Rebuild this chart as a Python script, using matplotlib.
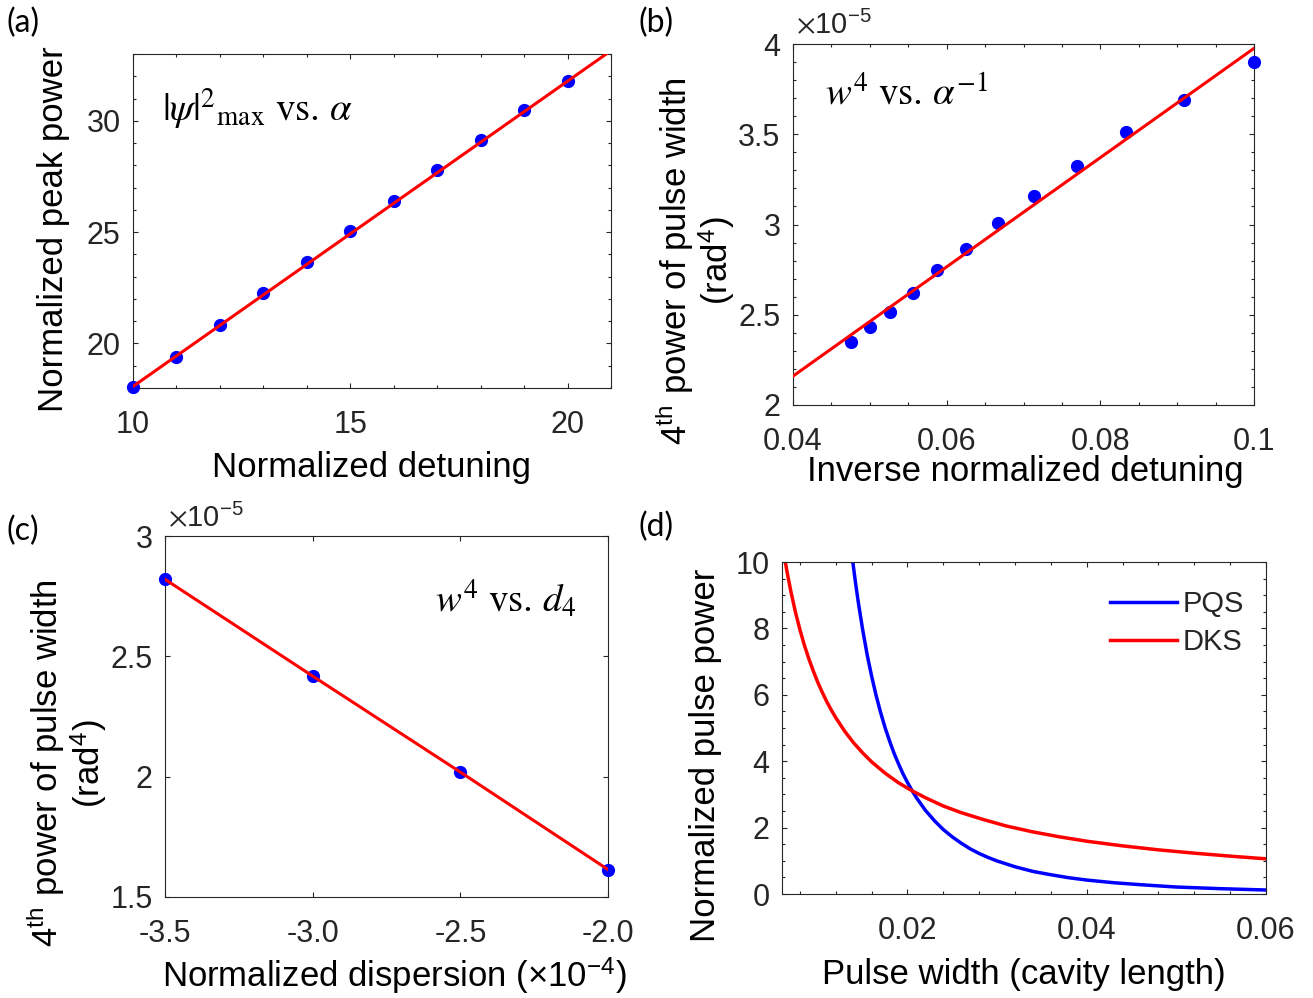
import numpy as np
import matplotlib
matplotlib.use("Agg")
import matplotlib.pyplot as plt
from matplotlib.ticker import MultipleLocator, FuncFormatter, FormatStrFormatter

plt.rcParams.update({
    "font.family": ["Liberation Sans", "DejaVu Sans"],
    "mathtext.fontset": "stix",
    "axes.unicode_minus": False,
    "axes.edgecolor": "#262626",
    "axes.linewidth": 0.8,
    "xtick.color": "#262626", "ytick.color": "#262626",
    "text.color": "#262626",
})
BLUE = "#0000ff"; RED = "#ff0000"
TICK_FS = 22; LABEL_FS = 25

# ── (a) peak power vs detuning ───────────────────────────────────────────────
det = [10, 11, 12, 13, 14, 15, 16, 17, 18, 19, 20]
peak = [18.05, 19.40, 20.82, 22.25, 23.64, 25.06, 26.41, 27.78, 29.13, 30.48, 31.80]
fit_a_x = [10, 21]
fit_a_y = [18.07, 33.15]

# ── (b) w^4 vs inverse detuning (x1e-5) ──────────────────────────────────────
inv_det = [0.0476, 0.0500, 0.0526, 0.0556, 0.0588, 0.0625,
           0.0667, 0.0714, 0.0769, 0.0833, 0.0909, 0.1000]
w4_b = [2.347, 2.433, 2.516, 2.618, 2.747, 2.867,
        3.008, 3.156, 3.324, 3.512, 3.687, 3.903]
fit_b_x = [0.04, 0.10]
fit_b_y = [2.16, 3.976]

# ── (c) w^4 vs d4 (x1e-5) ────────────────────────────────────────────────────
d4 = [-3.5, -3.0, -2.5, -2.0]
w4_c = [2.820, 2.418, 2.019, 1.614]

# ── (d) pulse power vs pulse width ───────────────────────────────────────────
pqs_x = [0.0139, 0.0142, 0.0145, 0.0150, 0.0155, 0.0160, 0.0165, 0.0170, 0.0175,
         0.0180, 0.0185, 0.0190, 0.0195, 0.0200, 0.0205, 0.0210, 0.0220, 0.0230,
         0.0240, 0.0250, 0.0260, 0.0270, 0.0280, 0.0290, 0.0300, 0.0320, 0.0340,
         0.0360, 0.0380, 0.0400, 0.0430, 0.0460, 0.0500, 0.0550, 0.0600]
pqs_y = [10.0, 9.38, 8.81, 7.96, 7.21, 6.56, 5.98, 5.47, 5.01,
         4.61, 4.24, 3.92, 3.62, 3.36, 3.12, 2.90, 2.52, 2.21,
         1.94, 1.72, 1.53, 1.36, 1.22, 1.10, 0.995, 0.82, 0.68,
         0.58, 0.49, 0.42, 0.34, 0.28, 0.21, 0.16, 0.12]
dks_x = [0.00637, 0.0066, 0.0070, 0.0075, 0.0080, 0.0085, 0.0090, 0.0095, 0.0100,
         0.0105, 0.0110, 0.0115, 0.0120, 0.0130, 0.0140, 0.0150, 0.0160, 0.0175,
         0.0190, 0.0205, 0.0220, 0.0240, 0.0260, 0.0285, 0.0310, 0.0340, 0.0370,
         0.0400, 0.0440, 0.0480, 0.0520, 0.0560, 0.0600]
dks_y = [10.0, 9.65, 9.10, 8.49, 7.96, 7.49, 7.08, 6.71, 6.37,
         6.07, 5.79, 5.54, 5.31, 4.90, 4.55, 4.25, 3.98, 3.64,
         3.35, 3.11, 2.90, 2.65, 2.45, 2.24, 2.05, 1.87, 1.72,
         1.59, 1.45, 1.33, 1.23, 1.14, 1.06]

W, H = 1313, 998


def px_axes(left, right, top, bottom):
    return fig.add_axes([left / W, 1 - bottom / H, (right - left) / W, (bottom - top) / H])


def style(ax, xminor, yminor):
    ax.tick_params(which="both", direction="in", top=True, right=True, width=0.8,
                   labelsize=TICK_FS)
    ax.tick_params(which="major", length=3.8)
    ax.tick_params(which="minor", length=2.4)
    ax.tick_params(axis="x", pad=16)
    ax.tick_params(axis="y", pad=9)
    if xminor:
        ax.xaxis.set_minor_locator(MultipleLocator(xminor))
    if yminor:
        ax.yaxis.set_minor_locator(MultipleLocator(yminor))


gfmt = FuncFormatter(lambda v, p: f"{v:g}")
ttl = dict(family="STIXGeneral", fontsize=28, color="black")

fig = plt.figure(figsize=(W / 100, H / 100), dpi=100)

# (a)
ax = px_axes(133, 611, 54, 388)
ax.plot(det, peak, "o", color=BLUE, ms=8.5, clip_on=False, zorder=3)
ax.plot(fit_a_x, fit_a_y, "-", color=RED, lw=2.2, zorder=4)
ax.set_xlim(10, 21); ax.set_ylim(18, 33)
ax.set_xticks([10, 15, 20]); ax.set_yticks([20, 25, 30])
style(ax, 1, 1)
ax.set_xlabel("Normalized detuning", fontsize=LABEL_FS)
ax.set_ylabel("Normalized peak power", fontsize=LABEL_FS)
ax.xaxis.set_label_coords(0.5, -0.19)
ax.yaxis.set_label_coords(-0.132, 0.476)
ax.text(0.06, 0.80, r"|$\psi$|$^{2}{}_{\mathrm{max}}$ vs. $\alpha$",
        transform=ax.transAxes, **ttl)

# (b)
ax = px_axes(793, 1254, 44, 405)
ax.plot(inv_det, w4_b, "o", color=BLUE, ms=8.5, clip_on=False, zorder=3)
ax.plot(fit_b_x, fit_b_y, "-", color=RED, lw=2.2, zorder=4)
ax.set_xlim(0.04, 0.1); ax.set_ylim(2, 4)
ax.set_xticks([0.04, 0.06, 0.08, 0.1]); ax.set_yticks([2, 2.5, 3, 3.5, 4])
ax.xaxis.set_major_formatter(gfmt); ax.yaxis.set_major_formatter(gfmt)
style(ax, 0.005, 0.1)
ax.set_xlabel("Inverse normalized detuning", fontsize=LABEL_FS)
ax.set_ylabel("4$^{\\mathdefault{th}}$ power of pulse width\n(rad$^{\\mathdefault{4}}$)",
              fontsize=LABEL_FS, linespacing=1.05)
ax.xaxis.set_label_coords(0.504, -0.138)
ax.yaxis.set_label_coords(-0.121, 0.40)
ax.text(0.07, 0.83, r"$w^{4}$ vs. $\alpha^{-1}$", transform=ax.transAxes, **ttl)
fig.text(796 / W, 1 - 33 / H, r"$\times\mathdefault{10^{-5}}$", fontsize=21, va="baseline")

# (c)
ax = px_axes(165, 608, 536, 897)
ax.plot(d4, w4_c, "o", color=BLUE, ms=8.5, clip_on=False, zorder=3)
ax.plot(d4, w4_c, "-", color=RED, lw=2.2, zorder=4)
ax.set_xlim(-3.5, -2.0); ax.set_ylim(1.5, 3.0)
ax.set_xticks([-3.5, -3.0, -2.5, -2.0]); ax.set_yticks([1.5, 2, 2.5, 3])
ax.xaxis.set_major_formatter(FormatStrFormatter("%.1f")); ax.yaxis.set_major_formatter(gfmt)
style(ax, None, None)
ax.set_xlabel("Normalized dispersion (×10$^{\\mathdefault{-4}}$)", fontsize=LABEL_FS)
ax.set_ylabel("4$^{\\mathdefault{th}}$ power of pulse width\n(rad$^{\\mathdefault{4}}$)",
              fontsize=LABEL_FS, linespacing=1.05)
ax.xaxis.set_label_coords(0.518, -0.16)
ax.yaxis.set_label_coords(-0.127, 0.371)
ax.text(0.61, 0.79, r"$w^{4}$ vs. $d_{4}$", transform=ax.transAxes, **ttl)
fig.text(168 / W, 1 - 526 / H, r"$\times\mathdefault{10^{-5}}$", fontsize=21, va="baseline")

# (d)
ax = px_axes(782, 1266, 562, 894)
ax.plot(pqs_x, pqs_y, "-", color=BLUE, lw=2.5, label="PQS", solid_joinstyle="round")
ax.plot(dks_x, dks_y, "-", color=RED, lw=2.5, label="DKS", solid_joinstyle="round")
ax.set_xlim(0.006, 0.06); ax.set_ylim(0, 10)
ax.set_xticks([0.02, 0.04, 0.06]); ax.set_yticks([0, 2, 4, 6, 8, 10])
ax.xaxis.set_major_formatter(gfmt)
style(ax, 0.004, 0.5)
ax.set_xlabel("Pulse width (cavity length)", fontsize=LABEL_FS)
ax.set_ylabel("Normalized pulse power", fontsize=LABEL_FS)
ax.xaxis.set_label_coords(0.50, -0.193)
ax.yaxis.set_label_coords(-0.123, 0.419)
ax.legend(loc="upper right", bbox_to_anchor=(0.985, 0.96), frameon=False, fontsize=21,
          borderpad=0, handlelength=2.3, handletextpad=0.2, labelspacing=0.35)

# panel tags
for tag, x, y in [("(a)", 6, 8), ("(b)", 639, 8), ("(c)", 6, 516), ("(d)", 639, 512)]:
    fig.text(x / W, 1 - y / H, tag, fontsize=23, family="Lato", color="black", va="top")

fig.savefig("out.png", dpi=100)
